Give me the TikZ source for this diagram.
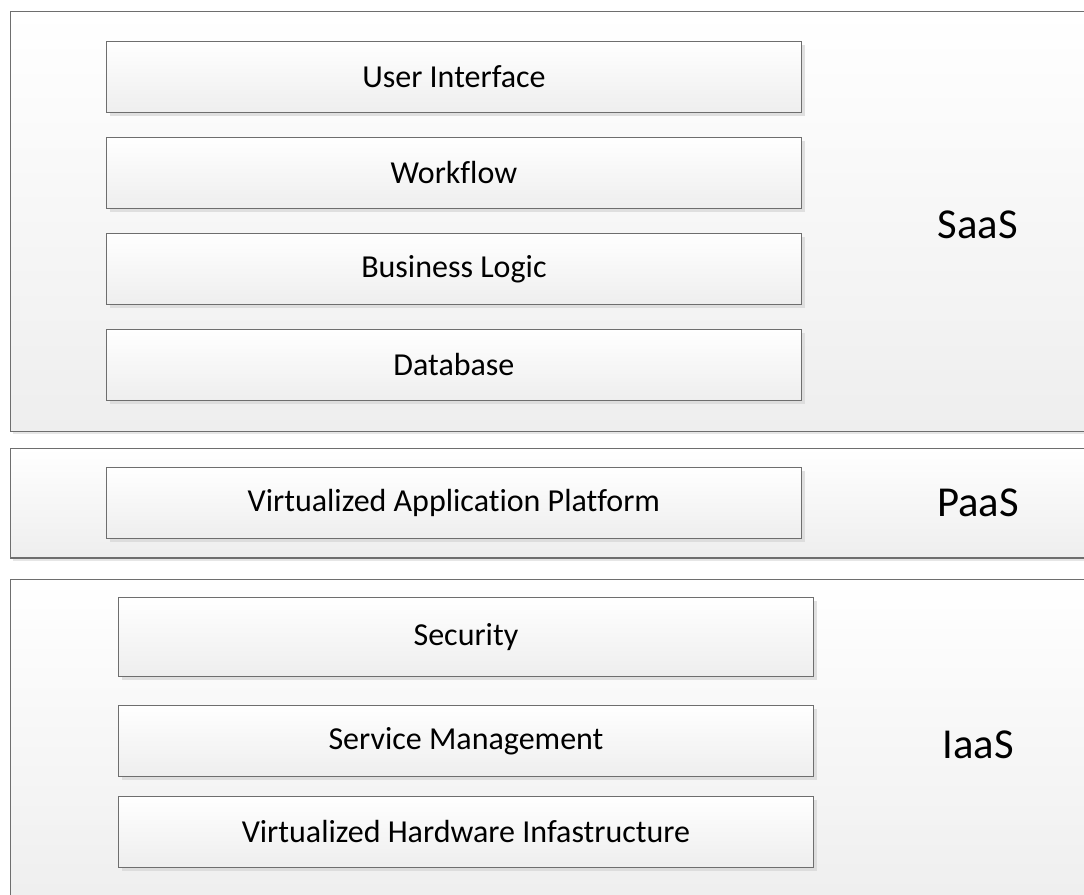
\documentclass[tikz,border=0pt]{standalone}
\usepackage{fontspec}
\setmainfont{Carlito}[Ligatures={NoCommon}]
\usetikzlibrary{shadows}
\definecolor{edgegray}{HTML}{6E6E6E}
\definecolor{shadegray}{HTML}{EEEEEE}
\tikzset{
  panel/.style={draw=edgegray, line width=0.9pt, anchor=north west, top color=white, bottom color=shadegray,
    drop shadow={shadow xshift=2pt, shadow yshift=-2pt, fill=black!12, opacity=0.8}},
  layerbox/.style={draw=edgegray, line width=0.9pt, anchor=north west, top color=white, bottom color=shadegray,
    minimum width=521pt, minimum height=53pt, inner sep=0pt, font=\fontsize{24}{28}\selectfont,
    drop shadow={shadow xshift=2.5pt, shadow yshift=-2.5pt, fill=black!15, opacity=0.8}},
  tier/.style={font=\fontsize{32}{38}\selectfont}
}
\begin{document}
\begin{tikzpicture}[x=0.75pt, y=-0.75pt]
% Set the page to the size of the picture
\useasboundingbox (0,0) rectangle (1084,895);

% Draw the three outer layers
\node[panel, minimum width=820pt, minimum height=315pt] (saas) at (10,11) {};
\node[panel, minimum width=820pt, minimum height=82pt] (paas) at (10,448) {};
\node[panel, minimum width=820pt, minimum height=250pt] (iaas) at (10,579) {};

% SaaS boxes
\node[layerbox] (ui) at (106,41) {User Interface};
\node[layerbox] (workflow) at (106,137) {Workflow};
\node[layerbox] (logic) at (106,233) {Business Logic};
\node[layerbox] (db) at (106,329) {Database};
\node[tier] (saaslabel) at (978,225) {SaaS};

% PaaS box
\node[layerbox] (platform) at (106,467) {Virtualized Application Platform};
\node[tier] (paaslabel) at (978,503) {PaaS};

% IaaS boxes
\node[layerbox, minimum height=59pt] (security) at (118,597) {Security};
\node[layerbox] (service) at (118,705) {Service Management};
\node[layerbox] (hardware) at (118,796) {Virtualized Hardware Infastructure};
\node[tier] (iaaslabel) at (978,745) {IaaS};
\end{tikzpicture}
\end{document}
